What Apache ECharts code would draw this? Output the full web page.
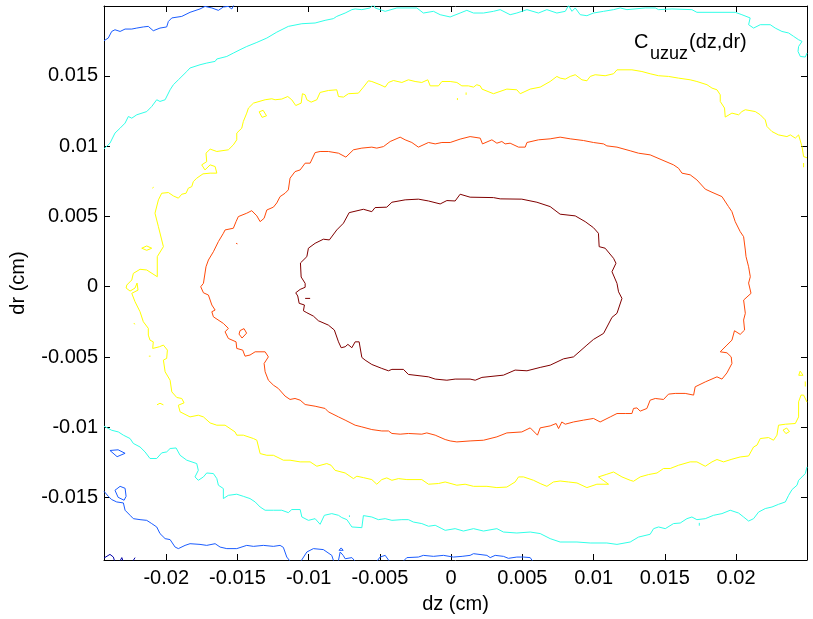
<!DOCTYPE html>
<html>
<head>
<meta charset="utf-8">
<script src="https://cdn.jsdelivr.net/npm/echarts@6/dist/echarts.min.js"></script>
<style>
html,body{margin:0;padding:0;background:#fff;}
#chart{width:813px;height:619px;}
</style>
</head>
<body>
<div id="chart"></div>
<script>
// Axis ranges and tick labels
const xRange = [-0.02437, 0.02498];
const yRange = [-0.01944, 0.01997];
const xTicks = [-0.02, -0.015, -0.01, -0.005, 0, 0.005, 0.01, 0.015, 0.02];
const yTicks = [-0.015, -0.01, -0.005, 0, 0.005, 0.01, 0.015];

// Contour lines [dz, dr]
const darkRedLevel = [[-0.01025,0.00024],[-0.01053,0.00069],[-0.01058,0.00169],[-0.01013,0.00214],[-0.01002,0.00274],[-0.00955,0.00309],[-0.00897,0.00338],[-0.00855,0.00333],[-0.00803,0.00404],[-0.00756,0.00452],[-0.00716,0.00527],[-0.00616,0.00551],[-0.00557,0.00534],[-0.00534,0.00563],[-0.00452,0.00566],[-0.00416,0.00601],[-0.00323,0.00618],[-0.00230,0.00623],[-0.00159,0.00610],[-0.00077,0.00589],[-0.00030,0.00613],[0.00028,0.00610],[0.00063,0.00658],[0.00133,0.00637],[0.00297,0.00634],[0.00344,0.00625],[0.00496,0.00623],[0.00602,0.00601],[0.00695,0.00570],[0.00765,0.00516],[0.00871,0.00504],[0.00941,0.00463],[0.00999,0.00420],[0.01034,0.00380],[0.01039,0.00285],[0.01081,0.00274],[0.01140,0.00202],[0.01157,0.00167],[0.01129,0.00107],[0.01164,0.00024],[0.01175,-0.00036],[0.01199,-0.00083],[0.01164,-0.00189],[0.01129,-0.00218],[0.01070,-0.00332],[0.00999,-0.00375],[0.00953,-0.00415],[0.00859,-0.00499],[0.00789,-0.00513],[0.00695,-0.00558],[0.00625,-0.00574],[0.00532,-0.00598],[0.00449,-0.00593],[0.00367,-0.00629],[0.00216,-0.00645],[0.00169,-0.00665],[0.00133,-0.00657],[0.00028,-0.00657],[-0.00030,-0.00665],[-0.00112,-0.00657],[-0.00159,-0.00641],[-0.00300,-0.00624],[-0.00335,-0.00588],[-0.00416,-0.00588],[-0.00440,-0.00598],[-0.00487,-0.00581],[-0.00557,-0.00553],[-0.00604,-0.00522],[-0.00627,-0.00503],[-0.00646,-0.00392],[-0.00674,-0.00392],[-0.00697,-0.00434],[-0.00725,-0.00410],[-0.00744,-0.00427],[-0.00772,-0.00434],[-0.00791,-0.00392],[-0.00820,-0.00308],[-0.00862,-0.00273],[-0.00932,-0.00242],[-0.00967,-0.00209],[-0.01013,-0.00185],[-0.01037,-0.00171],[-0.01030,-0.00130],[-0.01067,-0.00118],[-0.01077,-0.00066],[-0.01091,-0.00043],[-0.01060,-0.00019],[-0.01025,-0.00004],[-0.01025,0.00024]];
const darkRedBits = [[[-0.01025,-0.00083],[-0.00990,-0.00083]]];

const orangeLevel = [[-0.01739,0.00024],[-0.01721,0.00142],[-0.01704,0.00190],[-0.01669,0.00249],[-0.01634,0.00321],[-0.01599,0.00380],[-0.01587,0.00404],[-0.01529,0.00416],[-0.01510,0.00463],[-0.01494,0.00499],[-0.01435,0.00523],[-0.01400,0.00541],[-0.01364,0.00504],[-0.01341,0.00463],[-0.01313,0.00487],[-0.01294,0.00546],[-0.01248,0.00566],[-0.01224,0.00596],[-0.01201,0.00641],[-0.01166,0.00665],[-0.01143,0.00689],[-0.01131,0.00772],[-0.01096,0.00819],[-0.01060,0.00831],[-0.01025,0.00879],[-0.00990,0.00879],[-0.00955,0.00954],[-0.00920,0.00962],[-0.00862,0.00962],[-0.00791,0.00950],[-0.00739,0.00922],[-0.00686,0.00974],[-0.00627,0.00986],[-0.00557,0.00993],[-0.00522,0.00986],[-0.00475,0.00997],[-0.00428,0.01033],[-0.00358,0.01064],[-0.00323,0.01045],[-0.00276,0.01026],[-0.00230,0.00993],[-0.00159,0.01026],[-0.00112,0.01016],[-0.00065,0.01026],[-0.00007,0.01026],[0.00063,0.01050],[0.00133,0.01068],[0.00204,0.01057],[0.00220,0.01016],[0.00286,0.01045],[0.00321,0.01021],[0.00356,0.01033],[0.00379,0.01016],[0.00414,0.01021],[0.00473,0.00993],[0.00520,0.00993],[0.00532,0.01026],[0.00613,0.01045],[0.00695,0.01052],[0.00765,0.01064],[0.00836,0.01052],[0.00929,0.01040],[0.00999,0.01026],[0.01070,0.01016],[0.01093,0.01002],[0.01164,0.00993],[0.01257,0.00967],[0.01315,0.00950],[0.01397,0.00938],[0.01480,0.00902],[0.01561,0.00867],[0.01596,0.00843],[0.01620,0.00808],[0.01678,0.00796],[0.01725,0.00760],[0.01784,0.00694],[0.01831,0.00672],[0.01901,0.00641],[0.01947,0.00570],[0.01971,0.00534],[0.01994,0.00463],[0.02029,0.00392],[0.02053,0.00356],[0.02065,0.00261],[0.02070,0.00214],[0.02088,0.00142],[0.02100,0.00071],[0.02088,0.00026],[0.02105,-0.00047],[0.02053,-0.00095],[0.02065,-0.00189],[0.02053,-0.00237],[0.02060,-0.00308],[0.02029,-0.00339],[0.01989,-0.00313],[0.01971,-0.00380],[0.01936,-0.00415],[0.01889,-0.00463],[0.01936,-0.00470],[0.01966,-0.00499],[0.01971,-0.00546],[0.01936,-0.00613],[0.01901,-0.00657],[0.01866,-0.00641],[0.01784,-0.00677],[0.01713,-0.00712],[0.01702,-0.00771],[0.01643,-0.00759],[0.01573,-0.00759],[0.01526,-0.00764],[0.01491,-0.00802],[0.01433,-0.00795],[0.01397,-0.00807],[0.01374,-0.00866],[0.01327,-0.00885],[0.01304,-0.00862],[0.01280,-0.00866],[0.01269,-0.00902],[0.01222,-0.00902],[0.01164,-0.00902],[0.01117,-0.00926],[0.01046,-0.00962],[0.00999,-0.00937],[0.00929,-0.00949],[0.00859,-0.00962],[0.00801,-0.00978],[0.00777,-0.00962],[0.00754,-0.01009],[0.00737,-0.00973],[0.00695,-0.00990],[0.00625,-0.01004],[0.00606,-0.01056],[0.00555,-0.01004],[0.00496,-0.01033],[0.00391,-0.01040],[0.00321,-0.01068],[0.00227,-0.01092],[0.00133,-0.01097],[0.00040,-0.01104],[-0.00007,-0.01097],[-0.00042,-0.01087],[-0.00112,-0.01056],[-0.00171,-0.01040],[-0.00206,-0.01049],[-0.00300,-0.01044],[-0.00358,-0.01049],[-0.00416,-0.01044],[-0.00440,-0.01026],[-0.00487,-0.01026],[-0.00557,-0.01016],[-0.00627,-0.00997],[-0.00674,-0.00985],[-0.00744,-0.00949],[-0.00791,-0.00926],[-0.00862,-0.00890],[-0.00885,-0.00866],[-0.00955,-0.00850],[-0.01025,-0.00838],[-0.01060,-0.00807],[-0.01096,-0.00795],[-0.01131,-0.00802],[-0.01166,-0.00778],[-0.01213,-0.00724],[-0.01248,-0.00700],[-0.01283,-0.00665],[-0.01306,-0.00605],[-0.01313,-0.00546],[-0.01283,-0.00499],[-0.01306,-0.00463],[-0.01376,-0.00463],[-0.01412,-0.00486],[-0.01447,-0.00494],[-0.01463,-0.00451],[-0.01505,-0.00439],[-0.01510,-0.00392],[-0.01564,-0.00368],[-0.01587,-0.00321],[-0.01564,-0.00296],[-0.01599,-0.00261],[-0.01669,-0.00214],[-0.01680,-0.00178],[-0.01657,-0.00166],[-0.01680,-0.00130],[-0.01704,-0.00059],[-0.01739,-0.00043],[-0.01758,0.00000],[-0.01739,0.00024]];
const orangeBits = [
  [[-0.01482,-0.00312],[-0.01454,-0.00298],[-0.01436,-0.00330],[-0.01468,-0.00365],[-0.01489,-0.00337],[-0.01482,-0.00312]],
  [[-0.01510,0.00309],[-0.01500,0.00305]]
];

const yellowLevel = [[0.02498,0.00917],[0.02474,0.00926],[0.02463,0.00997],[0.02439,0.01080],[0.02416,0.01057],[0.02381,0.01080],[0.02357,0.01068],[0.02298,0.01080],[0.02252,0.01104],[0.02217,0.01140],[0.02205,0.01187],[0.02170,0.01223],[0.02135,0.01246],[0.02065,0.01259],[0.02041,0.01246],[0.02018,0.01223],[0.01971,0.01235],[0.01924,0.01207],[0.01919,0.01271],[0.01889,0.01318],[0.01889,0.01365],[0.01866,0.01401],[0.01831,0.01413],[0.01796,0.01437],[0.01725,0.01460],[0.01678,0.01472],[0.01596,0.01484],[0.01526,0.01496],[0.01456,0.01501],[0.01397,0.01515],[0.01339,0.01531],[0.01269,0.01543],[0.01164,0.01543],[0.01140,0.01515],[0.01081,0.01501],[0.01011,0.01508],[0.00976,0.01496],[0.00953,0.01465],[0.00918,0.01472],[0.00871,0.01508],[0.00836,0.01496],[0.00801,0.01477],[0.00765,0.01484],[0.00742,0.01496],[0.00695,0.01460],[0.00625,0.01420],[0.00555,0.01406],[0.00485,0.01373],[0.00461,0.01401],[0.00391,0.01406],[0.00297,0.01373],[0.00216,0.01406],[0.00204,0.01429],[0.00180,0.01437],[0.00157,0.01420],[0.00121,0.01429],[0.00075,0.01429],[0.00040,0.01453],[-0.00007,0.01460],[-0.00019,0.01467],[-0.00065,0.01460],[-0.00089,0.01429],[-0.00147,0.01429],[-0.00164,0.01472],[-0.00206,0.01453],[-0.00253,0.01460],[-0.00300,0.01472],[-0.00346,0.01453],[-0.00405,0.01467],[-0.00440,0.01453],[-0.00463,0.01420],[-0.00499,0.01437],[-0.00557,0.01460],[-0.00581,0.01465],[-0.00616,0.01420],[-0.00651,0.01377],[-0.00721,0.01373],[-0.00756,0.01349],[-0.00791,0.01353],[-0.00803,0.01401],[-0.00862,0.01396],[-0.00920,0.01382],[-0.00943,0.01330],[-0.00983,0.01313],[-0.01013,0.01330],[-0.01025,0.01365],[-0.01044,0.01373],[-0.01053,0.01306],[-0.01091,0.01289],[-0.01119,0.01330],[-0.01147,0.01353],[-0.01189,0.01335],[-0.01236,0.01330],[-0.01259,0.01337],[-0.01306,0.01330],[-0.01388,0.01306],[-0.01423,0.01271],[-0.01435,0.01235],[-0.01459,0.01175],[-0.01470,0.01128],[-0.01505,0.01093],[-0.01505,0.01045],[-0.01529,0.01009],[-0.01564,0.00974],[-0.01645,0.00962],[-0.01692,0.00979],[-0.01721,0.00950],[-0.01716,0.00890],[-0.01751,0.00867],[-0.01728,0.00831],[-0.01692,0.00867],[-0.01657,0.00855],[-0.01645,0.00808],[-0.01692,0.00808],[-0.01742,0.00803],[-0.01786,0.00772],[-0.01810,0.00748],[-0.01821,0.00712],[-0.01845,0.00701],[-0.01861,0.00665],[-0.01891,0.00658],[-0.01915,0.00630],[-0.01950,0.00646],[-0.01985,0.00670],[-0.02032,0.00665],[-0.02055,0.00618],[-0.02079,0.00523],[-0.02055,0.00427],[-0.02020,0.00285],[-0.02063,0.00214],[-0.02063,0.00071],[-0.02137,0.00119],[-0.02184,0.00124],[-0.02231,0.00095],[-0.02242,0.00048],[-0.02277,0.00012],[-0.02282,-0.00009],[-0.02254,-0.00031],[-0.02219,-0.00009],[-0.02205,0.00026],[-0.02191,0.00019],[-0.02198,-0.00024],[-0.02242,-0.00047],[-0.02219,-0.00107],[-0.02184,-0.00178],[-0.02161,-0.00249],[-0.02126,-0.00296],[-0.02126,-0.00344],[-0.02114,-0.00380],[-0.02091,-0.00392],[-0.02095,-0.00439],[-0.02048,-0.00427],[-0.02020,-0.00415],[-0.01992,-0.00451],[-0.01997,-0.00510],[-0.02020,-0.00522],[-0.02008,-0.00605],[-0.01973,-0.00665],[-0.01961,-0.00748],[-0.01926,-0.00788],[-0.01891,-0.00795],[-0.01875,-0.00826],[-0.01915,-0.00843],[-0.01903,-0.00890],[-0.01833,-0.00926],[-0.01775,-0.00914],[-0.01739,-0.00926],[-0.01692,-0.00969],[-0.01645,-0.00985],[-0.01587,-0.00985],[-0.01517,-0.01033],[-0.01505,-0.01056],[-0.01459,-0.01056],[-0.01388,-0.01080],[-0.01364,-0.01092],[-0.01341,-0.01187],[-0.01294,-0.01199],[-0.01248,-0.01199],[-0.01201,-0.01222],[-0.01178,-0.01234],[-0.01131,-0.01234],[-0.01060,-0.01246],[-0.00990,-0.01246],[-0.00943,-0.01277],[-0.00873,-0.01258],[-0.00843,-0.01270],[-0.00815,-0.01306],[-0.00744,-0.01325],[-0.00686,-0.01365],[-0.00662,-0.01348],[-0.00616,-0.01358],[-0.00557,-0.01372],[-0.00522,-0.01405],[-0.00487,-0.01372],[-0.00452,-0.01360],[-0.00416,-0.01377],[-0.00370,-0.01365],[-0.00311,-0.01372],[-0.00206,-0.01372],[-0.00159,-0.01405],[-0.00089,-0.01400],[-0.00042,-0.01389],[0.00040,-0.01412],[0.00098,-0.01405],[0.00157,-0.01420],[0.00251,-0.01420],[0.00321,-0.01429],[0.00391,-0.01425],[0.00449,-0.01389],[0.00473,-0.01353],[0.00508,-0.01353],[0.00578,-0.01377],[0.00625,-0.01400],[0.00672,-0.01420],[0.00718,-0.01389],[0.00765,-0.01382],[0.00824,-0.01389],[0.00883,-0.01396],[0.00953,-0.01429],[0.01023,-0.01405],[0.01105,-0.01405],[0.01067,-0.01377],[0.01034,-0.01353],[0.01093,-0.01334],[0.01140,-0.01318],[0.01199,-0.01353],[0.01257,-0.01377],[0.01280,-0.01384],[0.01327,-0.01353],[0.01386,-0.01336],[0.01445,-0.01325],[0.01491,-0.01293],[0.01538,-0.01293],[0.01596,-0.01270],[0.01678,-0.01246],[0.01725,-0.01246],[0.01784,-0.01277],[0.01831,-0.01246],[0.01866,-0.01229],[0.01912,-0.01246],[0.01971,-0.01227],[0.02029,-0.01211],[0.02088,-0.01204],[0.02123,-0.01140],[0.02147,-0.01127],[0.02170,-0.01080],[0.02228,-0.01073],[0.02263,-0.01092],[0.02287,-0.01056],[0.02298,-0.00985],[0.02346,-0.00978],[0.02416,-0.00973],[0.02439,-0.00926],[0.02439,-0.00819],[0.02456,-0.00771],[0.02474,-0.00771],[0.02498,-0.00821]];
const yellowBits = [
  [[-0.01348,0.01244],[-0.01320,0.01255],[-0.01296,0.01216],[-0.01327,0.01205],[-0.01348,0.01244]],
  [[-0.02098,0.00701],[-0.02088,0.00708]],
  [[-0.02172,0.00274],[-0.02137,0.00290],[-0.02102,0.00274],[-0.02137,0.00259],[-0.02172,0.00274]],
  [[-0.02227,-0.00258],[-0.02221,-0.00268]],
  [[-0.02122,-0.00494],[-0.02110,-0.00494]],
  [[-0.02065,-0.00840],[-0.02044,-0.00829],[-0.02020,-0.00840]],
  [[0.00044,0.01342],[0.00044,0.01328]],
  [[0.00105,0.01365],[0.00105,0.01382]],
  [[0.02474,0.00880],[0.02474,0.00850]],
  [[0.02450,-0.00600],[0.02470,-0.00630],[0.02440,-0.00630],[0.02450,-0.00600]],
  [[0.02486,-0.00674],[0.02486,-0.00710]],
  [[0.02330,-0.01020],[0.02355,-0.01005],[0.02375,-0.01030],[0.02350,-0.01045],[0.02330,-0.01020]]
];

const cyanTop = [[-0.02437,0.00981],[-0.02430,0.00986],[-0.02395,0.01021],[-0.02360,0.01093],[-0.02324,0.01128],[-0.02289,0.01164],[-0.02266,0.01211],[-0.02242,0.01199],[-0.02207,0.01223],[-0.02137,0.01246],[-0.02102,0.01282],[-0.02067,0.01330],[-0.02044,0.01318],[-0.02008,0.01330],[-0.01973,0.01401],[-0.01950,0.01437],[-0.01915,0.01472],[-0.01856,0.01531],[-0.01833,0.01556],[-0.01763,0.01579],[-0.01716,0.01591],[-0.01657,0.01603],[-0.01645,0.01620],[-0.01575,0.01638],[-0.01529,0.01662],[-0.01482,0.01686],[-0.01435,0.01709],[-0.01364,0.01738],[-0.01294,0.01769],[-0.01224,0.01811],[-0.01143,0.01852],[-0.01048,0.01871],[-0.00955,0.01876],[-0.00885,0.01895],[-0.00827,0.01907],[-0.00803,0.01923],[-0.00744,0.01947],[-0.00697,0.01971],[-0.00674,0.01976],[-0.00627,0.01971],[-0.00569,0.01983],[-0.00546,0.02010],[-0.00534,0.01983],[-0.00463,0.01959],[-0.00381,0.01983],[-0.00241,0.01983],[-0.00195,0.01947],[-0.00124,0.01959],[-0.00077,0.01935],[-0.00007,0.01919],[0.00063,0.01947],[0.00110,0.01966],[0.00157,0.01947],[0.00227,0.01947],[0.00297,0.01959],[0.00344,0.01971],[0.00414,0.01935],[0.00461,0.01947],[0.00532,0.01971],[0.00613,0.01947],[0.00672,0.01971],[0.00742,0.01947],[0.00801,0.01959],[0.00824,0.02000],[0.00848,0.01959],[0.00871,0.01983],[0.00906,0.01935],[0.00953,0.01928],[0.00999,0.01947],[0.01070,0.01959],[0.01140,0.01971],[0.01187,0.01983],[0.01234,0.01971],[0.01362,0.01983],[0.01433,0.01983],[0.01456,0.01971],[0.01550,0.01976],[0.01690,0.01971],[0.01725,0.01952],[0.01831,0.01952],[0.01994,0.01952],[0.02041,0.01935],[0.02099,0.01912],[0.02088,0.01864],[0.02123,0.01840],[0.02170,0.01864],[0.02240,0.01864],[0.02275,0.01840],[0.02322,0.01816],[0.02369,0.01805],[0.02404,0.01781],[0.02439,0.01757],[0.02463,0.01745],[0.02439,0.01709],[0.02435,0.01674],[0.02451,0.01638],[0.02486,0.01634],[0.02498,0.01662]];
const cyanBottom = [[-0.02437,-0.00992],[-0.02383,-0.01021],[-0.02336,-0.01033],[-0.02301,-0.01056],[-0.02254,-0.01080],[-0.02231,-0.01115],[-0.02184,-0.01140],[-0.02149,-0.01175],[-0.02114,-0.01222],[-0.02067,-0.01222],[-0.02032,-0.01182],[-0.01997,-0.01175],[-0.01973,-0.01151],[-0.01931,-0.01147],[-0.01903,-0.01199],[-0.01856,-0.01234],[-0.01786,-0.01258],[-0.01775,-0.01306],[-0.01798,-0.01353],[-0.01775,-0.01377],[-0.01739,-0.01353],[-0.01716,-0.01325],[-0.01669,-0.01329],[-0.01645,-0.01365],[-0.01634,-0.01412],[-0.01599,-0.01436],[-0.01599,-0.01507],[-0.01564,-0.01484],[-0.01505,-0.01476],[-0.01459,-0.01491],[-0.01412,-0.01507],[-0.01376,-0.01531],[-0.01341,-0.01567],[-0.01306,-0.01590],[-0.01248,-0.01590],[-0.01189,-0.01590],[-0.01143,-0.01607],[-0.01119,-0.01585],[-0.01060,-0.01585],[-0.01048,-0.01638],[-0.01002,-0.01662],[-0.00955,-0.01650],[-0.00920,-0.01690],[-0.00890,-0.01626],[-0.00838,-0.01614],[-0.00791,-0.01626],[-0.00768,-0.01642],[-0.00732,-0.01657],[-0.00697,-0.01709],[-0.00627,-0.01714],[-0.00616,-0.01628],[-0.00557,-0.01638],[-0.00511,-0.01657],[-0.00463,-0.01650],[-0.00416,-0.01662],[-0.00346,-0.01657],[-0.00300,-0.01657],[-0.00265,-0.01674],[-0.00206,-0.01685],[-0.00159,-0.01704],[-0.00112,-0.01697],[-0.00065,-0.01721],[-0.00042,-0.01733],[0.00028,-0.01721],[0.00086,-0.01738],[0.00157,-0.01721],[0.00227,-0.01738],[0.00321,-0.01721],[0.00367,-0.01745],[0.00461,-0.01752],[0.00555,-0.01745],[0.00625,-0.01756],[0.00695,-0.01792],[0.00765,-0.01816],[0.00883,-0.01816],[0.00976,-0.01823],[0.01093,-0.01823],[0.01164,-0.01833],[0.01257,-0.01816],[0.01315,-0.01781],[0.01397,-0.01761],[0.01421,-0.01721],[0.01456,-0.01709],[0.01503,-0.01721],[0.01561,-0.01685],[0.01608,-0.01681],[0.01655,-0.01650],[0.01690,-0.01638],[0.01725,-0.01657],[0.01784,-0.01650],[0.01842,-0.01626],[0.01901,-0.01614],[0.01959,-0.01590],[0.02018,-0.01610],[0.02053,-0.01638],[0.02088,-0.01667],[0.02123,-0.01650],[0.02158,-0.01603],[0.02205,-0.01578],[0.02252,-0.01567],[0.02298,-0.01548],[0.02346,-0.01531],[0.02369,-0.01484],[0.02393,-0.01443],[0.02428,-0.01412],[0.02439,-0.01377],[0.02463,-0.01353],[0.02486,-0.01329],[0.02498,-0.01282]];
const cyanBits = [
  [[-0.00714,-0.01626],[-0.00714,-0.01638]],
  [[0.01742,-0.01680],[0.01742,-0.01700]]
];

const blueTop = [[-0.02437,0.01750],[-0.02407,0.01769],[-0.02383,0.01816],[-0.02360,0.01828],[-0.02324,0.01816],[-0.02289,0.01833],[-0.02242,0.01833],[-0.02207,0.01840],[-0.02161,0.01848],[-0.02126,0.01852],[-0.02091,0.01821],[-0.02044,0.01840],[-0.01997,0.01848],[-0.01985,0.01887],[-0.01961,0.01912],[-0.01891,0.01923],[-0.01833,0.01952],[-0.01763,0.01976],[-0.01728,0.01994],[-0.01680,0.01983],[-0.01634,0.01966],[-0.01599,0.01990],[-0.01564,0.01994],[-0.01540,0.01976],[-0.01531,0.01985],[-0.01517,0.02020]];
const blueBottom = [[-0.02437,-0.01455],[-0.02407,-0.01491],[-0.02383,-0.01514],[-0.02348,-0.01531],[-0.02301,-0.01538],[-0.02289,-0.01590],[-0.02254,-0.01626],[-0.02231,-0.01650],[-0.02184,-0.01657],[-0.02137,-0.01662],[-0.02102,-0.01685],[-0.02067,-0.01709],[-0.02044,-0.01756],[-0.02008,-0.01792],[-0.01973,-0.01799],[-0.01938,-0.01852],[-0.01915,-0.01863],[-0.01868,-0.01840],[-0.01833,-0.01828],[-0.01763,-0.01833],[-0.01716,-0.01840],[-0.01657,-0.01828],[-0.01622,-0.01852],[-0.01575,-0.01863],[-0.01505,-0.01863],[-0.01435,-0.01840],[-0.01388,-0.01847],[-0.01318,-0.01840],[-0.01248,-0.01847],[-0.01201,-0.01840],[-0.01178,-0.01854],[-0.01154,-0.01923],[-0.01124,-0.01961],[-0.01060,-0.01961],[-0.01013,-0.01887],[-0.00967,-0.01863],[-0.00897,-0.01870],[-0.00838,-0.01911],[-0.00822,-0.01961],[-0.00794,-0.01961],[-0.00779,-0.01887],[-0.00758,-0.01911],[-0.00744,-0.01935],[-0.00697,-0.01927],[-0.00667,-0.01961],[-0.00527,-0.01961],[-0.00499,-0.01923],[-0.00463,-0.01911],[-0.00428,-0.01961],[-0.00344,-0.01961],[-0.00311,-0.01927],[-0.00230,-0.01923],[-0.00195,-0.01911],[-0.00124,-0.01918],[-0.00054,-0.01911],[0.00016,-0.01923],[0.00077,-0.01918],[0.00133,-0.01911],[0.00157,-0.01899],[0.00251,-0.01911],[0.00274,-0.01927],[0.00309,-0.01911],[0.00367,-0.01918],[0.00379,-0.01904],[0.00402,-0.01932],[0.00461,-0.01923],[0.00508,-0.01923],[0.00555,-0.01927],[0.00578,-0.01961]];
const blueBits = [
  [[-0.02395,-0.01165],[-0.02338,-0.01160],[-0.02289,-0.01185],[-0.02345,-0.01209],[-0.02395,-0.01165]],
  [[-0.02360,-0.01448],[-0.02324,-0.01420],[-0.02289,-0.01434],[-0.02282,-0.01491],[-0.02296,-0.01519],[-0.02338,-0.01498],[-0.02360,-0.01448]],
  [[-0.00787,-0.01875],[-0.00772,-0.01858],[-0.00758,-0.01875],[-0.00772,-0.01889],[-0.00787,-0.01875]]
];
const navyBits = [
  [[-0.02437,-0.01930],[-0.02395,-0.01904],[-0.02371,-0.01923],[-0.02360,-0.01961]],
  [[-0.02330,-0.01961],[-0.02312,-0.01927],[-0.02300,-0.01961]],
  [[-0.02240,-0.01961],[-0.02219,-0.01927]]
];

const FONT = "Arial, 'Liberation Sans', Helvetica, sans-serif";
const colors = {
  darkRed: '#800000',
  orange: '#FF4A0A',
  yellow: '#FFFF00',
  cyan: '#30FFE8',
  blue: '#1A5CFF',
  navy: '#0000A8'
};

function lineSeries(data, color) {
  return {
    type: 'line', data: data, showSymbol: false, symbol: 'none',
    clip: true, silent: true, animation: false,
    lineStyle: { color: color, width: 1 }
  };
}

const groups = [
  [[darkRedLevel].concat(darkRedBits), colors.darkRed],
  [[orangeLevel].concat(orangeBits), colors.orange],
  [[yellowLevel].concat(yellowBits), colors.yellow],
  [[cyanTop, cyanBottom].concat(cyanBits), colors.cyan],
  [[blueTop, blueBottom].concat(blueBits), colors.blue],
  [navyBits, colors.navy]
];
const series = [];
groups.forEach(function (g) { g[0].forEach(function (d) { series.push(lineSeries(d, g[1])); }); });

const fmt = function (v) { return String(parseFloat(Number(v).toFixed(4))); };

function xAxisDef(pos, main) {
  return {
    type: 'value', min: xRange[0], max: xRange[1], position: pos,
    axisLine: { show: true, onZero: false, lineStyle: { color: '#000', width: 1 } },
    axisTick: { show: true, inside: true, length: 6, customValues: xTicks, lineStyle: { color: '#000', width: 1 } },
    axisLabel: main ? { show: true, customValues: xTicks, formatter: fmt, color: '#000', fontSize: 20, fontFamily: FONT, margin: 8 } : { show: false },
    splitLine: { show: false },
    name: main ? 'dz (cm)' : '', nameLocation: 'middle', nameGap: 34,
    nameTextStyle: { color: '#000', fontSize: 20, fontFamily: FONT }
  };
}
function yAxisDef(pos, main) {
  return {
    type: 'value', min: yRange[0], max: yRange[1], position: pos,
    axisLine: { show: true, onZero: false, lineStyle: { color: '#000', width: 1 } },
    axisTick: { show: true, inside: true, length: 6, customValues: yTicks, lineStyle: { color: '#000', width: 1 } },
    axisLabel: main ? { show: true, customValues: yTicks, formatter: fmt, color: '#000', fontSize: 20, fontFamily: FONT, margin: 6 } : { show: false },
    splitLine: { show: false },
    name: main ? 'dr (cm)' : '', nameLocation: 'middle', nameGap: 76, nameRotate: 90,
    nameTextStyle: { color: '#000', fontSize: 20, fontFamily: FONT }
  };
}

const chart = echarts.init(document.getElementById('chart'), null, { renderer: 'canvas' });
chart.setOption({
  animation: false,
  backgroundColor: '#fff',
  grid: { left: 104, top: 6, width: 703, height: 554, containLabel: false },
  xAxis: [xAxisDef('bottom', true), xAxisDef('top', false)],
  yAxis: [yAxisDef('left', true), yAxisDef('right', false)],
  series: series,
  graphic: [
    { type: 'text', left: 634, top: 32, style: { text: 'C', font: '20px ' + FONT, fill: '#000' } },
    { type: 'text', left: 650, top: 45, style: { text: 'uzuz', font: '18px ' + FONT, fill: '#000' } },
    { type: 'text', left: 689, top: 32, style: { text: '(dz,dr)', font: '20px ' + FONT, fill: '#000' } }
  ]
});
</script>
</body>
</html>
